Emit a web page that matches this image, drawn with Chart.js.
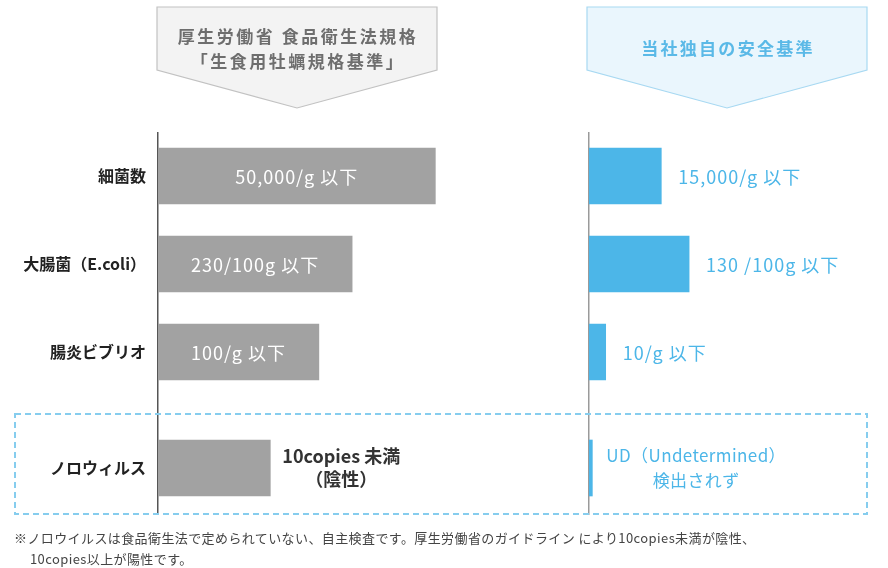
<!DOCTYPE html>
<html lang="ja">
<head>
<meta charset="utf-8">
<title>生食用牡蠣 規格比較</title>
<script src="https://cdn.jsdelivr.net/npm/chart.js@4.4.1/dist/chart.umd.min.js"></script>
<style>
  body { margin: 0; background: #fff; font-family: "Noto Sans CJK JP", sans-serif; }
  #stage { position: relative; width: 888px; height: 568px; overflow: hidden; }
  .panel { position: absolute; overflow: hidden; }
  .panel canvas { display: block; }
  #overlay { position: absolute; left: 0; top: 0; pointer-events: none; }
  .note { position: absolute; left: 14px; top: 527px; font-size: 13px; line-height: 21px; letter-spacing: 0.4px; color: #444; white-space: nowrap; }
  .note div + div { padding-left: 16px; }
</style>
</head>
<body>
<div id="stage"></div>
<script>
// rows
const categories = ["細菌数", "大腸菌（E.coli）", "腸炎ビブリオ"];
const noroCategory = ["ノロウィルス"];

// bar lengths as drawn in the picture (schematic, same relative scale on both sides)
const govValues = [100, 70, 58];
const govNoroValue = [40.5];
const ownValues = [26, 36, 6];
const ownNoroValue = [1.2];

// texts on / next to the bars
const govLabels = ["50,000/g 以下", "230/100g 以下", "100/g 以下"];
const govNoroLabel = [["10copies 未満", "（陰性）"]];
const ownLabels = ["15,000/g 以下", "130 /100g 以下", "10/g 以下"];
const ownNoroLabel = [["UD（Undetermined）", "検出されず"]];

const govHeader = ["厚生労働省 食品衛生法規格", "「生食用牡蠣規格基準」"];
const ownHeader = ["当社独自の安全基準"];
const noteLines = [
  "※ノロウイルスは食品衛生法で定められていない、自主検査です。厚生労働省のガイドライン により10copies未満が陰性、",
  "10copies以上が陽性です。",
];

const FONT = '"Noto Sans CJK JP", "Noto Sans", sans-serif';
const GRAY = "#a2a2a2";
const BLUE = "#4cb6e8";

function createEl(tag, className, parentNode) {
  const el = document.createElement(tag);
  if (className) el.className = className;
  if (parentNode) parentNode.appendChild(el);
  return el;
}

function svgEl(tag, attrs, parentNode) {
  const el = document.createElementNS("http://www.w3.org/2000/svg", tag);
  Object.keys(attrs).forEach((k) => el.setAttribute(k, attrs[k]));
  if (parentNode) parentNode.appendChild(el);
  return el;
}

// text drawn on or after each bar
function barLabels(cfg) {
  return {
    id: "barLabels",
    afterDatasetsDraw(chart) {
      const { ctx } = chart;
      const bars = chart.getDatasetMeta(0).data;
      ctx.save();
      ctx.font = cfg.font;
      ctx.fillStyle = cfg.color;
      ctx.letterSpacing = cfg.spacing || "0px";
      ctx.textBaseline = "middle";
      bars.forEach((bar, i) => {
        const lines = [].concat(cfg.labels[i]);
        if (cfg.inside) {
          ctx.textAlign = "center";
          ctx.fillText(lines[0], (bar.base + bar.x) / 2, bar.y + 1);
          return;
        }
        if (lines.length === 1) {
          ctx.textAlign = "left";
          ctx.fillText(lines[0], bar.x + cfg.gap, bar.y + 1);
          return;
        }
        const maxW = Math.max(...lines.map((l) => ctx.measureText(l).width));
        const cx = bar.x + cfg.gap + maxW / 2;
        ctx.textAlign = "center";
        lines.forEach((l, j) => {
          ctx.fillText(l, cx, bar.y + (j - (lines.length - 1) / 2) * cfg.lineHeight);
        });
      });
      ctx.restore();
    },
  };
}

function makeChart(stage, cfg) {
  const panel = createEl("div", "panel", stage);
  panel.style.left = cfg.left + "px";
  panel.style.top = cfg.top + "px";
  panel.style.width = cfg.width + "px";
  panel.style.height = (cfg.clip || cfg.height) + "px";
  const canvas = createEl("canvas", "", panel);
  canvas.width = cfg.width;
  canvas.height = cfg.height;

  return new Chart(canvas.getContext("2d"), {
    type: "bar",
    data: {
      labels: cfg.categories,
      datasets: [{ data: cfg.values, backgroundColor: cfg.barColor, borderWidth: 0, barThickness: 56 }],
    },
    options: {
      indexAxis: "y",
      responsive: false,
      animation: false,
      events: [],
      layout: { padding: 0 },
      plugins: { legend: { display: false }, tooltip: { enabled: false } },
      scales: {
        x: { display: false, min: 0, max: cfg.max },
        y: {
          afterFit: (scale) => {
            // fixed axis width, and no label padding above/below the rows
            scale.width = cfg.axisWidth;
            scale.paddingTop = 0;
            scale.paddingBottom = 0;
          },
          grid: { display: false, drawTicks: false },
          border: { display: true, color: cfg.axisColor, width: 1.5 },
          ticks: {
            display: cfg.showTicks,
            padding: 12,
            color: "#222",
            font: { family: FONT, size: 16, weight: "bold" },
          },
        },
      },
    },
    plugins: [barLabels(cfg.label)],
  });
}

function drawHeader(svg, x, cfg) {
  const w = 280;
  const pts = [[x, 7], [x + w, 7], [x + w, 70], [x + w / 2, 108], [x, 70]];
  svgEl("polygon", {
    points: pts.map((p) => p.join(",")).join(" "),
    fill: cfg.fill, stroke: cfg.stroke, "stroke-width": 1.2,
  }, svg);
  cfg.lines.forEach((line, i) => {
    const t = svgEl("text", {
      x: x + w / 2 + 1, y: cfg.y[i],
      "text-anchor": "middle", "dominant-baseline": "central",
      "font-family": FONT, "font-size": 17, "font-weight": "bold",
      "letter-spacing": cfg.spacing, fill: cfg.color,
    }, svg);
    t.textContent = line;
  });
}

const stage = document.getElementById("stage");

// left: 厚生労働省 standard
makeChart(stage, {
  left: 0, top: 132, width: 574, height: 264,
  categories, values: govValues, barColor: GRAY, max: 150,
  axisWidth: 158, axisColor: "#555", showTicks: true,
  label: { labels: govLabels, inside: true, font: `18px ${FONT}`, color: "#fff", spacing: "1px" },
});
makeChart(stage, {
  left: 0, top: 396, width: 574, height: 144, clip: 119,
  categories: noroCategory, values: govNoroValue, barColor: GRAY, max: 150,
  axisWidth: 158, axisColor: "#555", showTicks: true,
  label: { labels: govNoroLabel, font: `bold 18px ${FONT}`, color: "#333", gap: 12, lineHeight: 23 },
});

// right: own standard
makeChart(stage, {
  left: 580, top: 132, width: 301, height: 264,
  categories, values: ownValues, barColor: BLUE, max: 105,
  axisWidth: 9, axisColor: "#9a9a9a", showTicks: false,
  label: { labels: ownLabels, font: `18px ${FONT}`, color: BLUE, spacing: "1px", gap: 17 },
});
makeChart(stage, {
  left: 580, top: 396, width: 301, height: 144, clip: 119,
  categories: noroCategory, values: ownNoroValue, barColor: BLUE, max: 105,
  axisWidth: 9, axisColor: "#9a9a9a", showTicks: false,
  label: { labels: ownNoroLabel, font: `17px ${FONT}`, color: BLUE, spacing: "0.4px", gap: 14, lineHeight: 25 },
});

// headers and the norovirus frame
const svg = svgEl("svg", { id: "overlay", width: 888, height: 568 }, stage);
drawHeader(svg, 157, {
  lines: govHeader, y: [35, 60], spacing: 2.5,
  fill: "#f3f3f3", stroke: "#c2c2c2", color: "#6e6e6e",
});
drawHeader(svg, 587, {
  lines: ownHeader, y: [47], spacing: 2.3,
  fill: "#eaf6fd", stroke: "#a8d9f2", color: "#5ab9e7",
});
svgEl("rect", {
  x: 15, y: 414, width: 852, height: 100,
  fill: "none", stroke: "#86cdee", "stroke-width": 2, "stroke-dasharray": "6 4",
}, svg);

const note = createEl("div", "note", stage);
noteLines.forEach((line) => { createEl("div", "", note).textContent = line; });
</script>
</body>
</html>
